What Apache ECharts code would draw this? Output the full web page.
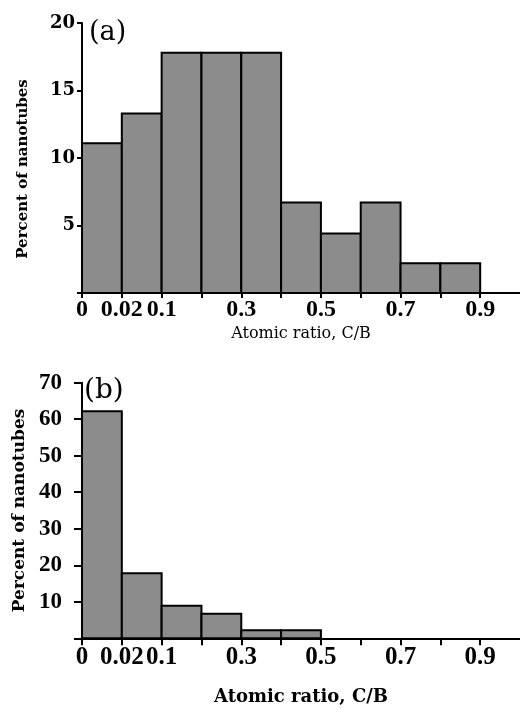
<!DOCTYPE html>
<html>
<head>
<meta charset="utf-8">
<script src="https://cdn.jsdelivr.net/npm/echarts@6/dist/echarts.min.js"></script>
<style>
  html, body { margin: 0; padding: 0; background: #fff; }
  #chart { width: 520px; height: 715px; }
</style>
</head>
<body>
<div id="chart"></div>
<script>
// bin edges shown under the ticks (empty string = tick without label)
const tickLabels = ['0', '0.02', '0.1', '', '0.3', '', '0.5', '', '0.7', '', '0.9']
// percent of nanotubes per bin, panel (a) and panel (b)
const percentA = [11.1, 13.3, 17.8, 17.8, 17.8, 6.7, 4.4, 6.7, 2.2, 2.2]
const percentB = [62.2, 17.8, 8.9, 6.7, 2.2, 2.2, 0, 0, 0, 0]

const serif = 'DejaVu Serif'
const times = 'Liberation Serif'
const barFill = '#8c8c8c'

let myChart = echarts.init(document.getElementById('chart'), null, { renderer: 'canvas' })

// one rect per bin, from bin i to i+1
function renderBar(params, api) {
  let i = api.value(0)
  let v = api.value(1)
  if (!v) return
  let topLeft = api.coord([i, v])
  let bottomRight = api.coord([i + 1, 0])
  return {
    type: 'rect',
    shape: {
      x: topLeft[0],
      y: topLeft[1],
      width: bottomRight[0] - topLeft[0],
      height: bottomRight[1] - topLeft[1]
    },
    style: { fill: barFill, stroke: '#000', lineWidth: 2 }
  }
}

function xAxisFor(gridIndex, nameSize, nameBold, nameGap, labelSize, labelMargin, tickLen) {
  return {
    type: 'value',
    gridIndex: gridIndex,
    min: 0,
    max: 11,
    interval: 1,
    name: 'Atomic ratio, C/B',
    nameLocation: 'middle',
    nameGap: nameGap,
    nameTextStyle: {
      fontFamily: serif,
      fontSize: nameSize,
      fontWeight: nameBold ? 'bold' : 'normal',
      color: '#000'
    },
    axisLine: { lineStyle: { color: '#000', width: 2 } },
    axisTick: { length: tickLen, lineStyle: { color: '#000', width: 2 } },
    axisLabel: {
      margin: labelMargin,
      fontFamily: times,
      fontWeight: 'bold',
      fontSize: labelSize,
      color: '#000',
      showMaxLabel: false,
      formatter: function(v) {
        let lab = tickLabels[Math.round(v)]
        return lab === undefined ? '' : lab
      }
    },
    splitLine: { show: false }
  }
}

function yAxisFor(gridIndex, max, interval, nameSize, nameGap, namePad, labelFont, labelSize, labelMargin, tickLen) {
  return {
    type: 'value',
    gridIndex: gridIndex,
    min: 0,
    max: max,
    interval: interval,
    name: 'Percent of nanotubes',
    nameLocation: 'middle',
    nameGap: nameGap,
    nameTextStyle: {
      fontFamily: serif,
      fontSize: nameSize,
      fontWeight: 'bold',
      color: '#000',
      padding: namePad
    },
    axisLine: { show: true, lineStyle: { color: '#000', width: 2 } },
    axisTick: { show: true, length: tickLen, lineStyle: { color: '#000', width: 2 } },
    axisLabel: {
      margin: labelMargin,
      fontFamily: labelFont,
      fontWeight: 'bold',
      fontSize: labelSize,
      color: '#000',
      formatter: function(v) {
        return v === 0 ? '' : String(v)
      }
    },
    splitLine: { show: false }
  }
}

let option = {
  backgroundColor: '#fff',
  animation: false,
  grid: [
    { left: 82, top: 23, height: 270, width: 440.6 },
    { left: 82, top: 382.7, height: 255.6, width: 440.6 }
  ],
  xAxis: [
    xAxisFor(0, 16, false, 33, 24, 5, 5),
    xAxisFor(1, 18, true, 50, 25, 7, 7)
  ],
  yAxis: [
    yAxisFor(0, 20, 5, 15, 51, [0, 22, 0, 0], serif, 18, 7, 5),
    yAxisFor(1, 70, 10, 17, 49, 0, times, 23, 20, 8)
  ],
  graphic: [
    {
      type: 'text',
      left: 89,
      top: 19,
      style: { text: '(a)', fontFamily: serif, fontSize: 27, fill: '#000' }
    },
    {
      type: 'text',
      left: 84,
      top: 377,
      style: { text: '(b)', fontFamily: serif, fontSize: 28, fill: '#000' }
    }
  ],
  series: [
    {
      type: 'custom',
      xAxisIndex: 0,
      yAxisIndex: 0,
      renderItem: renderBar,
      encode: { x: 0, y: 1 },
      data: percentA.map(function(v, i) { return [i, v] })
    },
    {
      type: 'custom',
      xAxisIndex: 1,
      yAxisIndex: 1,
      renderItem: renderBar,
      encode: { x: 0, y: 1 },
      data: percentB.map(function(v, i) { return [i, v] })
    }
  ]
}

myChart.setOption(option)
</script>
</body>
</html>
